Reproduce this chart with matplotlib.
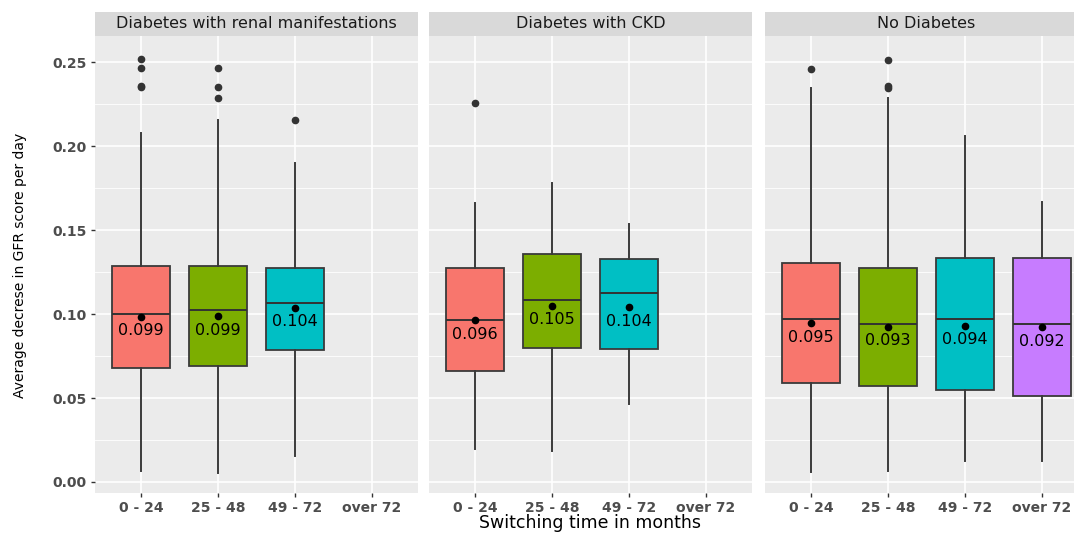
import matplotlib.pyplot as plt

# facet groups and switching-time categories
groups = ["Diabetes with renal manifestations", "Diabetes with CKD", "No Diabetes"]
cats = ["0 - 24", "25 - 48", "49 - 72", "over 72"]

# box stats, one list per facet
renal_q1 = [0.0677, 0.0690, 0.0788]
renal_med = [0.1000, 0.1022, 0.1065]
renal_q3 = [0.1286, 0.1288, 0.1276]
renal_lo = [0.0067, 0.0056, 0.0157]
renal_hi = [0.2075, 0.2155, 0.1900]
renal_mean = [0.0984, 0.0988, 0.1038]
renal_out = [[0.2520, 0.2464, 0.2355, 0.2350], [0.2464, 0.2349, 0.2288], [0.2153]]
renal_lab = ["0.099", "0.099", "0.104"]

ckd_q1 = [0.0658, 0.0800, 0.0792]
ckd_med = [0.0965, 0.1086, 0.1127]
ckd_q3 = [0.1272, 0.1359, 0.1329]
ckd_lo = [0.0198, 0.0186, 0.0464]
ckd_hi = [0.1662, 0.1779, 0.1537]
ckd_mean = [0.0963, 0.1050, 0.1042]
ckd_out = [[0.2254], [], []]
ckd_lab = ["0.096", "0.105", "0.104"]

nod_q1 = [0.0590, 0.0571, 0.0545, 0.0511]
nod_med = [0.0969, 0.0939, 0.0969, 0.0941]
nod_q3 = [0.1302, 0.1272, 0.1333, 0.1333]
nod_lo = [0.0057, 0.0065, 0.0125, 0.0125]
nod_hi = [0.2344, 0.2284, 0.2060, 0.1664]
nod_mean = [0.0945, 0.0925, 0.0931, 0.0921]
nod_out = [[0.2460], [0.2514, 0.2355, 0.2348], [], []]
nod_lab = ["0.095", "0.093", "0.094", "0.092"]

panels = [
    (renal_q1, renal_med, renal_q3, renal_lo, renal_hi, renal_mean, renal_out, renal_lab),
    (ckd_q1, ckd_med, ckd_q3, ckd_lo, ckd_hi, ckd_mean, ckd_out, ckd_lab),
    (nod_q1, nod_med, nod_q3, nod_lo, nod_hi, nod_mean, nod_out, nod_lab),
]

fills = ["#F8766D", "#7CAE00", "#00BFC4", "#C77CFF"]
yticks = [0.0, 0.05, 0.10, 0.15, 0.20, 0.25]
yminor = [0.025, 0.075, 0.125, 0.175, 0.225]

W, H = 1074, 533
fig = plt.figure(figsize=(W / 100, H / 100), dpi=100)


def px_box(l, t, w, h):
    return [l / W, 1 - (t + h) / H, w / W, h / H]


lefts = [95, 429, 765]
for k, (q1, med, q3, lo, hi, mean, out, lab) in enumerate(panels):
    ax = fig.add_axes(px_box(lefts[k], 36, 323, 457))
    ax.set_facecolor("#EBEBEB")
    for s in ax.spines.values():
        s.set_visible(False)
    ax.set_axisbelow(True)

    stats = []
    for i in range(len(q1)):
        stats.append(dict(q1=q1[i], med=med[i], q3=q3[i], whislo=lo[i],
                          whishi=hi[i], fliers=out[i]))
    pos = list(range(1, len(q1) + 1))
    bp = ax.bxp(stats, positions=pos, widths=0.76, patch_artist=True,
                showcaps=False,
                boxprops=dict(edgecolor="#3A3A3A", linewidth=1.3),
                medianprops=dict(color="#333333", linewidth=1.4),
                whiskerprops=dict(color="#3A3A3A", linewidth=1.4),
                flierprops=dict(marker="o", markerfacecolor="#333333",
                                markeredgecolor="#333333", markersize=4.5))
    for patch, c in zip(bp["boxes"], fills):
        patch.set_facecolor(c)

    ax.plot(pos, mean, "o", color="black", markersize=4.5, zorder=5)
    for p, m, t in zip(pos, mean, lab):
        ax.text(p, m - 0.0085, t, ha="center", va="center", fontsize=11.5,
                color="black", zorder=6)

    ax.set_xlim(0.4, 4.6)
    ax.set_ylim(-0.00655, 0.2655)
    ax.set_xticks(range(1, 5))
    ax.set_xticklabels(cats, fontweight="bold")
    ax.set_yticks(yticks)
    ax.set_yticks(yminor, minor=True)
    ax.set_yticklabels(["%.2f" % v for v in yticks], fontweight="bold")
    ax.grid(which="major", color="white", linewidth=1.2)
    ax.grid(which="minor", axis="y", color="white", linewidth=0.6)
    ax.tick_params(which="major", length=3, width=1, color="#333333",
                   labelcolor="#4D4D4D", labelsize=10, pad=3)
    ax.tick_params(which="minor", length=0)
    if k > 0:
        ax.tick_params(axis="y", left=False, labelleft=False)

    # facet strip
    sax = fig.add_axes(px_box(lefts[k], 12, 323, 24))
    sax.set_facecolor("#D9D9D9")
    sax.set_xticks([])
    sax.set_yticks([])
    for s in sax.spines.values():
        s.set_visible(False)
    sax.text(0.5, 0.5, groups[k], ha="center", va="center", fontsize=11.5,
             color="#1A1A1A", transform=sax.transAxes)

fig.text(20 / W, 1 - 265 / H, "Average decrese in GFR score per day",
         rotation=90, ha="center", va="center", fontsize=10)
fig.text(590 / W, 1 / H, "Switching time in months",
         ha="center", va="bottom", fontsize=12.5)

fig.savefig("out.png", dpi=100)
